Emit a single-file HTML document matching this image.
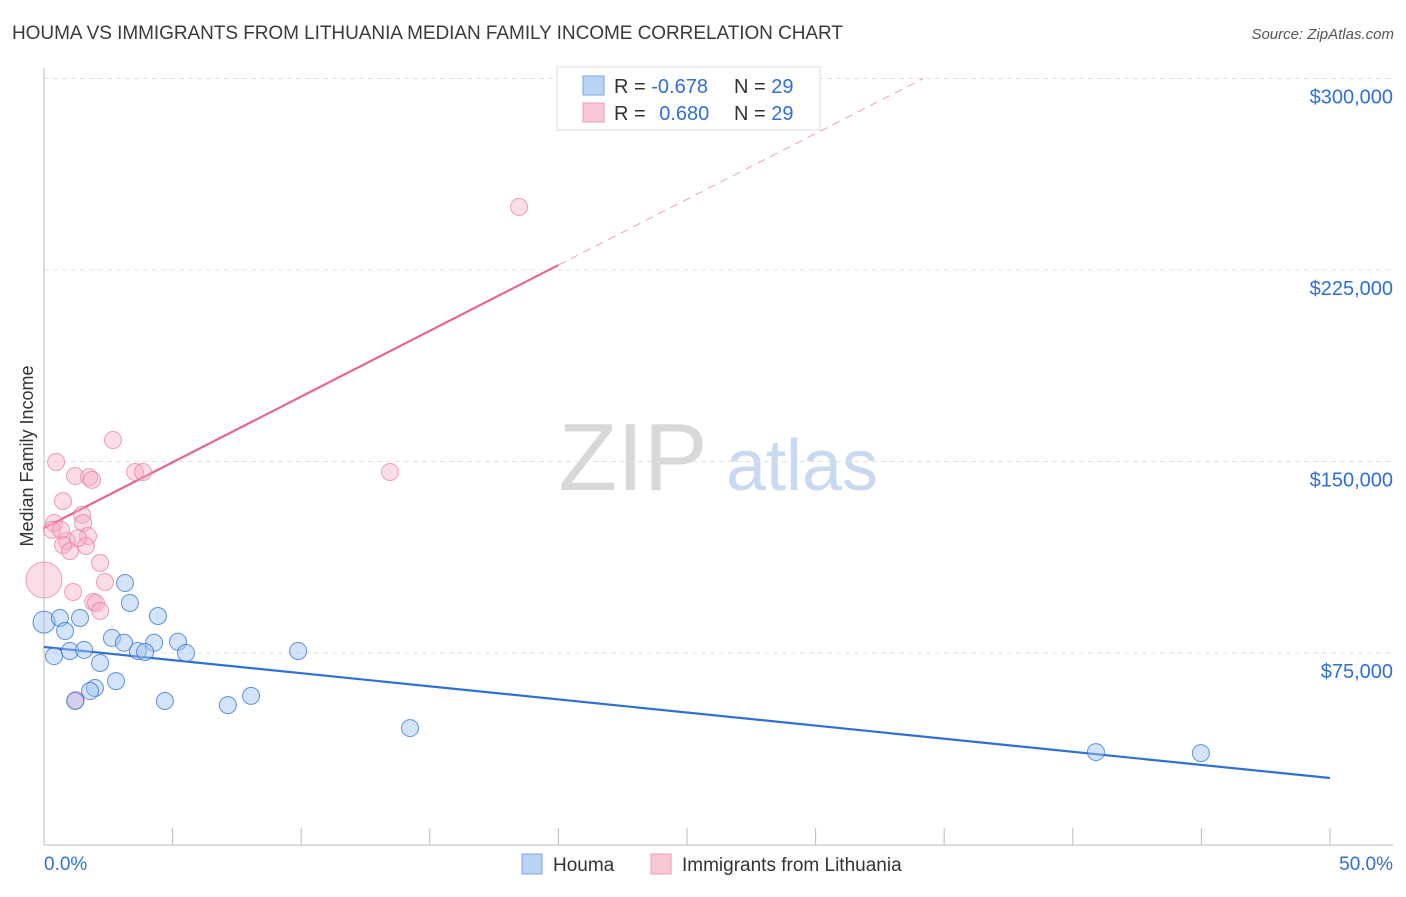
<!DOCTYPE html>
<html><head><meta charset="utf-8"><style>
body{margin:0;background:#fff;font-family:"Liberation Sans",sans-serif;}
svg text{font-family:"Liberation Sans",sans-serif;}
</style></head><body>
<svg id="chart" width="1406" height="892" viewBox="0 0 1406 892">
<text x="12" y="39" font-size="19" fill="#3a3a3a" textLength="831">HOUMA VS IMMIGRANTS FROM LITHUANIA MEDIAN FAMILY INCOME CORRELATION CHART</text>
<text x="1394" y="39" font-size="15" fill="#555" font-style="italic" text-anchor="end">Source: ZipAtlas.com</text>
<text transform="translate(33,456) rotate(-90)" font-size="18" fill="#333" text-anchor="middle">Median Family Income</text>
<g>
<text x="633" y="490" font-size="96" fill="#d8d8d8" font-family="Liberation Serif" text-anchor="middle">ZIP</text>
<text x="802" y="490" font-size="72" fill="#c9d9ef" text-anchor="middle">atlas</text>
</g>
<g id="grid"></g><g id="axes"></g><g id="lines"></g><g id="points"></g>
<g>
<rect x="557" y="67" width="263" height="63" fill="#fff" stroke="#ddd"/>
<rect x="583" y="76" width="21" height="19" fill="#b9d3f5" stroke="#7aa6e6"/>
<rect x="583" y="103" width="21" height="19" fill="#f8c8d6" stroke="#ec9ab3"/>
<text x="614" y="93" font-size="20" fill="#333">R = <tspan fill="#2f6fd6">-0.678</tspan></text>
<text x="734" y="93" font-size="20" fill="#333">N = <tspan fill="#2f6fd6">29</tspan></text>
<text x="614" y="120" font-size="20" fill="#333">R = <tspan fill="#2f6fd6" dx="8">0.680</tspan></text>
<text x="734" y="120" font-size="20" fill="#333">N = <tspan fill="#2f6fd6">29</tspan></text>
</g>
<g>
<rect x="522" y="854" width="20" height="20" fill="#b9d3f5" stroke="#7aa6e6"/>
<text x="553" y="871" font-size="19" fill="#333">Houma</text>
<rect x="651" y="854" width="20" height="20" fill="#f8c8d6" stroke="#ec9ab3"/>
<text x="682" y="871" font-size="19" fill="#333">Immigrants from Lithuania</text>
</g>
</svg>
<script>
const yTicks=[75000,150000,225000,300000];
const yTickLabels=["$75,000","$150,000","$225,000","$300,000"];
const xTickLabels=["0.0%","50.0%"];
const houmaX=[0,0.62,0.82,1.40,0.39,1.01,1.56,3.15,3.34,4.43,2.64,3.11,4.28,5.21,3.65,3.93,5.52,9.88,2.18,2.80,1.98,1.79,1.21,4.70,7.15,8.05,14.23,40.90,44.98];
const houmaY=[87100,88700,83600,88700,73800,75800,76200,102400,94600,89500,80900,79000,79000,79400,75800,75400,75000,75800,71100,64000,61300,60100,56200,56200,54600,58200,45600,36200,35800];
const lithX=[0.47,2.68,3.54,3.85,1.21,1.75,0.74,1.48,1.52,0.39,0.31,0.89,0.74,1.71,1.63,1.01,2.18,0,2.37,1.13,1.91,2.02,2.18,1.24,13.45,18.47,0.66,1.32,1.87];
const lithY=[149800,158400,145900,145900,144300,143900,134500,129100,125900,125900,123200,118900,117300,120800,116900,114900,110300,103600,102800,98900,95000,94600,91500,56600,145900,249700,123200,120000,142800];
const houmaTrend=[77340,26040];
const lithTrend=[123940,5150];
const NS="http://www.w3.org/2000/svg";
const xS=p=>44+p/50*1286;
const yS=v=>844.5-v/75000*191.5;
function mk(tag,attrs,parent){const e=document.createElementNS(NS,tag);for(const k in attrs)e.setAttribute(k,attrs[k]);document.getElementById(parent).appendChild(e);return e;}
yTicks.forEach((t,i)=>{
 const g=mk('line',{x1:44,x2:1393,y1:yS(t),y2:yS(t),stroke:'#e0e0e0','stroke-dasharray':'5,4'},'grid');
 
 
 const l=mk('text',{x:1393,y:yS(t)+25,'font-size':20,fill:'#2f6fd6','text-anchor':'end'},'grid');
 l.textContent=yTickLabels[i];
 
 
});
mk('line',{x1:44,x2:44,y1:68,y2:845,stroke:'#bbb'},'axes');
mk('line',{x1:44,x2:1393,y1:845,y2:845,stroke:'#bbb'},'axes');
for(let i=0;i<=10;i++){mk('line',{x1:xS(i*5),x2:xS(i*5),y1:828,y2:845,stroke:'#bbb'},'axes');}
xTickLabels.forEach((s,i)=>{
 const t=mk('text',{x:i?1393:44,y:870,'font-size':19,fill:'#2f6fd6','text-anchor':i?'end':'start'},'axes');
 t.textContent=s;
 
 
});
const hb=mk('line',{x1:xS(0),y1:yS(houmaTrend[0]),x2:xS(50),y2:yS(houmaTrend[1]),stroke:'#2f6fd6','stroke-width':2.2},'lines');


const pEnd=20;const pTop=(300000-lithTrend[0])/lithTrend[1];
const ps=mk('line',{x1:xS(0),y1:yS(lithTrend[0]),x2:xS(pEnd),y2:yS(lithTrend[0]+lithTrend[1]*pEnd),stroke:'#e8658f','stroke-width':2.2},'lines');


const pd=mk('line',{x1:xS(pEnd),y1:yS(lithTrend[0]+lithTrend[1]*pEnd),x2:xS(pTop),y2:yS(300000),stroke:'#eda0b8','stroke-width':1,'stroke-dasharray':'8,6'},'lines');


lithX.forEach((x,i)=>{
 const c=mk('circle',{cx:xS(x),cy:yS(lithY[i]),r:i===17?18:8.5,fill:'rgba(246,170,195,0.4)',stroke:'rgba(232,120,155,0.7)'},'points');
 
 
});
houmaX.forEach((x,i)=>{
 const c=mk('circle',{cx:xS(x),cy:yS(houmaY[i]),r:i===0?11:8.5,fill:'rgba(160,196,240,0.45)',stroke:'rgba(47,111,214,0.75)'},'points');
 
 
});
</script>
</body></html>
